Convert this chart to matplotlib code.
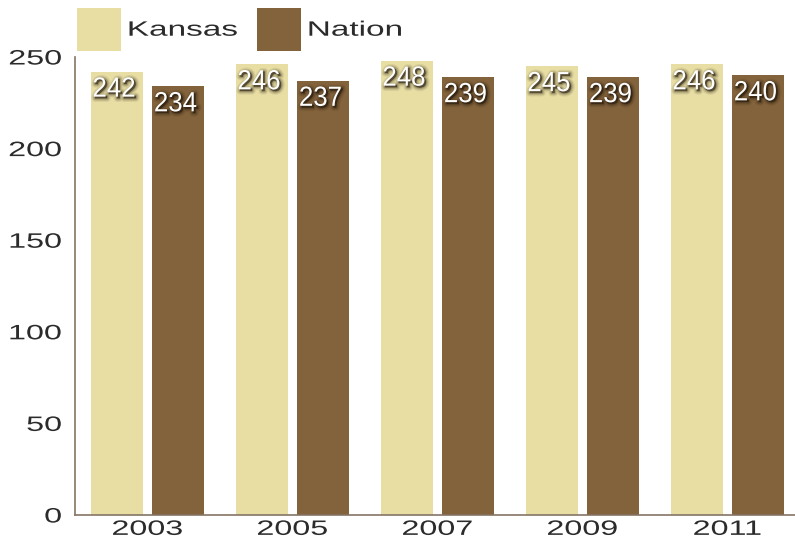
import matplotlib
matplotlib.use("Agg")
import matplotlib.pyplot as plt
import numpy as np
from matplotlib.patches import Patch
from matplotlib.patheffects import AbstractPathEffect
from matplotlib.transforms import Affine2D

years = ["2003", "2005", "2007", "2009", "2011"]
kansas = [242, 246, 248, 245, 246]
nation = [234, 237, 239, 239, 240]
series_names = ["Kansas", "Nation"]
yticks = [0, 50, 100, 150, 200, 250]

KANSAS_COLOR = "#E8DEA4"
NATION_COLOR = "#83633B"
AXIS_COLOR = "#857565"
TEXT_COLOR = "#2b2b2b"


class StretchedGlyphs(AbstractPathEffect):
    """Draw text glyphs scaled horizontally, optionally over a soft shadow."""

    def __init__(self, sx, anchor="center", shadow=False):
        super().__init__()
        self.sx = sx
        self.anchor = anchor
        self.shadow = shadow

    def draw_path(self, renderer, gc, tpath, affine, rgbFace=None):
        ext = tpath.get_extents()
        if self.anchor == "left":
            ax0 = ext.x0
        elif self.anchor == "right":
            ax0 = ext.x1
        else:
            ax0 = 0.5 * (ext.x0 + ext.x1)
        base = Affine2D().translate(-ax0, 0).scale(self.sx, 1).translate(ax0, 0) + affine
        if self.shadow:
            for lw, alpha in [(5.5, 0.08), (3.8, 0.12), (2.2, 0.18), (0.8, 0.30)]:
                g = renderer.new_gc()
                g.copy_properties(gc)
                g.set_foreground("#1e1408")
                g.set_linewidth(lw)
                g.set_alpha(alpha)
                g.set_joinstyle("round")
                renderer.draw_path(g, tpath, base + Affine2D().translate(1.5, -1.5),
                                   (0.12, 0.08, 0.03, 1.0))
                g.restore()
        renderer.draw_path(gc, tpath, base, rgbFace)


fig = plt.figure(figsize=(7.95, 5.42), dpi=100)
ax = fig.add_axes([75 / 795, 27 / 542, 720 / 795, 458 / 542])

x = np.arange(len(years))
offset = 0.212
width = 0.359
bars_k = ax.bar(x - offset, kansas, width=width, color=KANSAS_COLOR, label=series_names[0], zorder=2)
bars_n = ax.bar(x + offset, nation, width=width, color=NATION_COLOR, label=series_names[1], zorder=2)

ax.set_xlim(-0.5, 4.466)
ax.set_ylim(0, 250)
ax.set_yticks(yticks)
ax.set_xticks(x)
ax.set_xticklabels(years)

for side in ["top", "right"]:
    ax.spines[side].set_visible(False)
for side in ["left", "bottom"]:
    ax.spines[side].set_color(AXIS_COLOR)
    ax.spines[side].set_linewidth(1.2)

ax.tick_params(axis="both", length=0, labelsize=15, labelcolor=TEXT_COLOR)
ax.tick_params(axis="y", pad=9.5)
ax.tick_params(axis="x", pad=3.5)
for lab in ax.get_yticklabels():
    lab.set_fontfamily("Liberation Sans")
    lab.set_path_effects([StretchedGlyphs(1.55, "right")])
for lab in ax.get_xticklabels():
    lab.set_fontfamily("Liberation Sans")
    lab.set_path_effects([StretchedGlyphs(1.55, "center")])

# value labels inside the top of each bar
for bars, vals in [(bars_k, kansas), (bars_n, nation)]:
    for b, v in zip(bars, vals):
        ax.annotate(str(v), xy=(b.get_x() + b.get_width() / 2, v),
                    xytext=(-2.0, -18.0), textcoords="offset points",
                    ha="center", va="baseline", fontsize=20, color="white",
                    family="Liberation Sans", zorder=3,
                    path_effects=[StretchedGlyphs(0.93, "center", shadow=True)])

handles = [Patch(facecolor=KANSAS_COLOR, edgecolor="none"),
           Patch(facecolor=NATION_COLOR, edgecolor="none")]
leg = fig.legend(handles, series_names, loc="upper left",
                 bbox_to_anchor=(77 / 795, 1 - 8 / 542), ncol=2, frameon=False,
                 prop={"family": "Liberation Sans", "size": 15},
                 handlelength=2.1, handleheight=2.8, handletextpad=0.34,
                 columnspacing=2.85, borderpad=0, borderaxespad=0)
for t in leg.get_texts():
    t.set_color(TEXT_COLOR)
    t.set_path_effects([StretchedGlyphs(1.6, "left")])

fig.savefig("out.png", dpi=100)
